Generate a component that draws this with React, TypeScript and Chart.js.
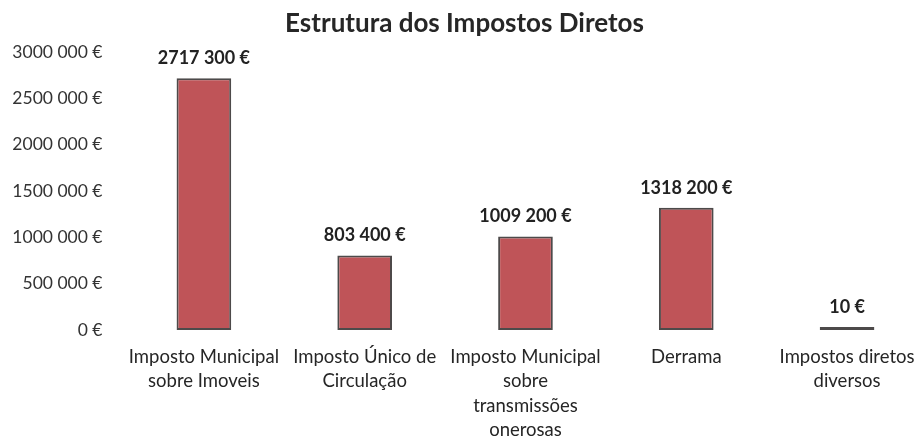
import React, { useEffect, useRef } from "react";
import { Chart, registerables } from "chart.js";

Chart.register(...registerables);

const chartTitle = "Estrutura dos Impostos Diretos";
const categories: string[][] = [
  ["Imposto Municipal", "sobre Imoveis"],
  ["Imposto Único de", "Circulação"],
  ["Imposto Municipal", "sobre", "transmissões", "onerosas"],
  ["Derrama"],
  ["Impostos diretos", "diversos"],
];
const values: number[] = [2717300, 803400, 1009200, 1318200, 10];
const yMin = 0;
const yMax = 3000000;
const yStep = 500000;

const FONT = "Lato, 'Open Sans', sans-serif";

function fmtEuro(n: number): string {
  if (n >= 1000) {
    const th = Math.floor(n / 1000);
    const r = String(Math.round(n % 1000)).padStart(3, "0");
    return `${th} ${r} €`;
  }
  return `${n} €`;
}

const valueLabels = {
  id: "valueLabels",
  afterDatasetsDraw(chart: any) {
    const ctx = chart.ctx;
    const meta = chart.getDatasetMeta(0);
    ctx.save();
    ctx.font = `bold 18px ${FONT}`;
    ctx.fillStyle = "#222222";
    ctx.textAlign = "center";
    ctx.textBaseline = "middle";
    meta.data.forEach((el: any, i: number) => {
      ctx.fillText(fmtEuro(values[i]), el.x, el.y - 20);
    });
    ctx.restore();
  },
};

export default function App() {
  const ref = useRef<HTMLCanvasElement | null>(null);
  useEffect(() => {
    if (!ref.current) return;
    const chart = new Chart(ref.current, {
      type: "bar",
      data: {
        labels: categories,
        datasets: [
          {
            data: values,
            backgroundColor: "#bf5458",
            borderColor: "#4d4a4a",
            borderWidth: 2,
            borderSkipped: false,
            minBarLength: 3,
            barPercentage: 0.34,
            categoryPercentage: 1,
          },
        ],
      },
      options: {
        responsive: false,
        animation: false,
        layout: { padding: 0 },
        plugins: {
          legend: { display: false },
          tooltip: { enabled: false },
          title: {
            display: true,
            text: chartTitle,
            color: "#262626",
            font: { family: FONT, size: 26, weight: "bold" },
            padding: { top: 8.4, bottom: 12.4 },
          },
        },
        scales: {
          x: {
            grid: { display: false, drawTicks: false },
            border: { display: false },
            ticks: {
              color: "#262626",
              font: { family: FONT, size: 18.5, lineHeight: 1.32 },
              padding: 14.5,
              maxRotation: 0,
              autoSkip: false,
            },
            afterFit: (s: any) => {
              s.height = 107;
            },
          },
          y: {
            min: yMin,
            max: yMax,
            grid: { display: false, drawTicks: false },
            border: { display: false },
            ticks: {
              stepSize: yStep,
              color: "#333333",
              font: { family: FONT, size: 17.5 },
              padding: 21,
              callback: (v: any) => fmtEuro(Number(v)),
            },
            afterFit: (s: any) => {
              s.width = 123.5;
            },
          },
        },
      },
      plugins: [valueLabels],
    });
    return () => chart.destroy();
  }, []);
  return (
    <div
      style={{
        position: "fixed",
        left: 0,
        top: 0,
        width: 920,
        height: 437,
        overflow: "hidden",
        background: "#fff",
      }}
    >
      <canvas ref={ref} width={929} height={437} style={{ display: "block" }} />
    </div>
  );
}
